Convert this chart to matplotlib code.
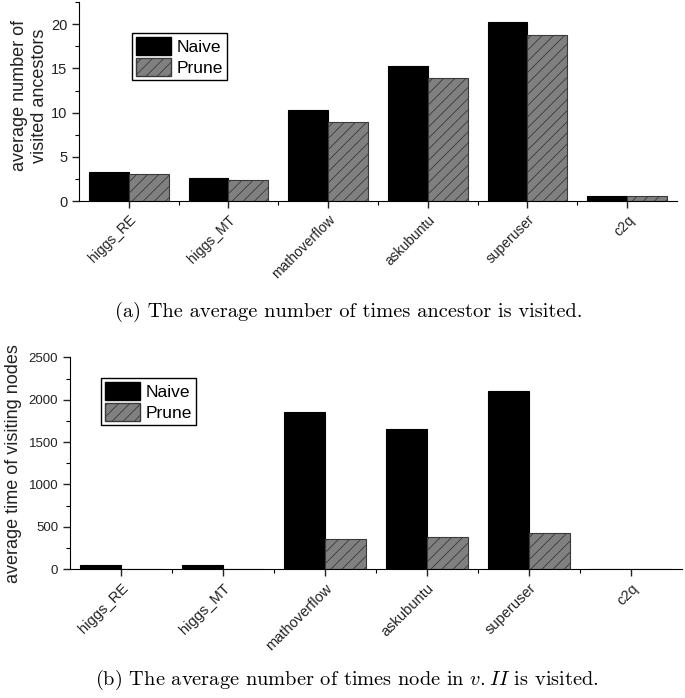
import numpy as np
import matplotlib
matplotlib.use("Agg")
import matplotlib.pyplot as plt
from matplotlib.patches import Patch
from matplotlib.ticker import MultipleLocator, FixedLocator

plt.rcParams['font.family'] = ['Liberation Sans', 'DejaVu Sans']
plt.rcParams['mathtext.fontset'] = 'cm'
plt.rcParams['hatch.linewidth'] = 0.6

# data
datasets = ["higgs_RE", "higgs_MT", "mathoverflow", "askubuntu", "superuser", "c2q"]
anc_naive = [3.28, 2.57, 10.3, 15.3, 20.3, 0.57]
anc_prune = [3.06, 2.34, 8.9, 13.96, 18.8, 0.57]
time_naive = [47, 46, 1858, 1651, 2106, 0]
time_prune = [8, 7, 357, 381, 428, 0]

fig = plt.figure(figsize=(6.85, 6.98), dpi=100)

def draw(ax, naive, prune, ylim, major, minor, ylabel, lsp, ysize, xsize, labx, laby):
    x = np.arange(len(datasets))
    w = 0.4
    ax.bar(x - w / 2, naive, w, color="black", edgecolor="black", linewidth=0.8, label="Naive")
    ax.bar(x + w / 2, prune, w, color="#808080", edgecolor="#3a3a3a", linewidth=0.8,
           hatch="///", label="Prune")
    ax.set_xlim(-0.5, len(datasets) - 0.5)
    ax.set_ylim(*ylim)
    ax.spines['top'].set_visible(False)
    ax.spines['right'].set_visible(False)
    ax.yaxis.set_major_locator(MultipleLocator(major))
    ax.yaxis.set_minor_locator(MultipleLocator(minor))
    ax.set_xticks(x)
    ax.set_xticklabels(datasets, rotation=45, ha="right", rotation_mode="anchor", fontsize=xsize)
    ax.xaxis.set_minor_locator(FixedLocator(x[:-1] + 0.5))
    ax.tick_params(which="major", direction="out", length=5, width=1, colors="#222222")
    ax.tick_params(which="minor", direction="out", length=3, width=0.8)
    ax.tick_params(axis="y", which="major", labelsize=ysize)
    ax.set_ylabel(ylabel, fontsize=13, linespacing=lsp, color="#222222")
    ax.yaxis.set_label_coords(labx, laby)

ax1 = fig.add_axes([0.1153, 0.712, 0.873, 0.285])
draw(ax1, anc_naive, anc_prune, (0, 22.5), 5, 2.5, "average number of\nvisited ancestors",
     1.2, 10.5, 10, -0.052, 0.53)

ax2 = fig.add_axes([0.1022, 0.1844, 0.8934, 0.3037])
draw(ax2, time_naive, time_prune, (0, 2500), 500, 250, "average time of visiting nodes",
     1.0, 9.5, 10.5, -0.078, 0.5)

handles = [Patch(facecolor="black", edgecolor="black", label="Naive"),
           Patch(facecolor="#808080", edgecolor="#3a3a3a", hatch="///", label="Prune")]
for anchor in [(0.1927, 0.9527), (0.1474, 0.4585)]:
    fig.legend(handles=handles, loc="upper left", bbox_to_anchor=anchor, fontsize=12.5,
               frameon=True, fancybox=False, edgecolor="black", framealpha=1,
               handlelength=2.0, handleheight=1.15, labelspacing=0.2, borderpad=0.25,
               handletextpad=0.3, borderaxespad=0)

fig.text(0.5095, 0.553, "(a) The average number of times ancestor is visited.",
         ha="center", va="center", fontsize=14.7, family="cmr10")
fig.text(0.506, 0.026, "(b) The average number of times node in $v.II$ is visited.",
         ha="center", va="center", fontsize=14.7, family="cmr10")

fig.savefig("out.png", dpi=100)
